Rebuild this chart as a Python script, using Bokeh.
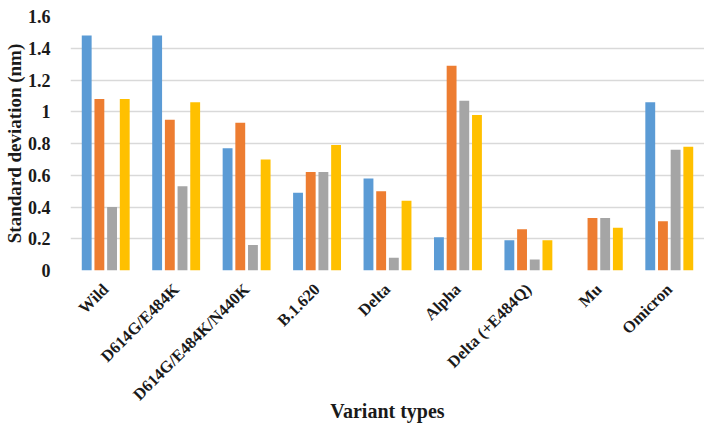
import math
from bokeh.plotting import figure
from bokeh.models import ColumnDataSource, FactorRange, Range1d
from bokeh.transform import dodge
from bokeh.embed import file_html
from bokeh.resources import INLINE

categories = ["Wild", "D614G/E484K", "D614G/E484K/N440K", "B.1.620", "Delta",
              "Alpha", "Delta (+E484Q)", "Mu", "Omicron"]
series1 = [1.48, 1.48, 0.77, 0.49, 0.58, 0.21, 0.19, 0.0, 1.06]
series2 = [1.08, 0.95, 0.93, 0.62, 0.50, 1.29, 0.26, 0.33, 0.31]
series3 = [0.40, 0.53, 0.16, 0.62, 0.08, 1.07, 0.07, 0.33, 0.76]
series4 = [1.08, 1.06, 0.70, 0.79, 0.44, 0.98, 0.19, 0.27, 0.78]
y_ticks = [0, 0.2, 0.4, 0.6, 0.8, 1.0, 1.2, 1.4, 1.6]

colors = ["#5B9BD5", "#ED7D31", "#A5A5A5", "#FFC000"]
offsets = [-0.27, -0.09, 0.09, 0.27]

source = ColumnDataSource(data=dict(cat=categories, s1=series1, s2=series2,
                                    s3=series3, s4=series4))

FONT = "Liberation Serif"

p = figure(x_range=FactorRange(*categories, range_padding=0.0),
           y_range=Range1d(0, 1.6),
           width=704, height=424, output_backend="svg", toolbar_location=None,
           min_border_left=10, min_border_top=16, min_border_right=0,
           min_border_bottom=0)

for key, c, off in zip(["s1", "s2", "s3", "s4"], colors, offsets):
    p.vbar(x=dodge("cat", off, range=p.x_range), top=key, width=0.14,
           source=source, fill_color=c, line_color=None)

p.outline_line_color = None
p.xgrid.grid_line_color = None
p.ygrid.grid_line_color = "#d9d9d9"
p.ygrid.grid_line_width = 1.5
p.yaxis.ticker = y_ticks
p.yaxis.major_label_overrides = {0: "0", 0.2: "0.2", 0.4: "0.4", 0.6: "0.6",
                                 0.8: "0.8", 1.0: "1", 1.2: "1.2", 1.4: "1.4",
                                 1.6: "1.6"}

for ax in [p.xaxis[0], p.yaxis[0]]:
    ax.axis_line_color = None
    ax.major_tick_line_color = None
    ax.minor_tick_line_color = None
    ax.major_label_text_font = FONT
    ax.major_label_text_font_style = "bold"
    ax.major_label_text_color = "#1a1a1a"
    ax.axis_label_text_font = FONT
    ax.axis_label_text_font_style = "bold"
    ax.axis_label_text_color = "#1a1a1a"

p.yaxis.major_label_text_font_size = "18px"
p.yaxis.axis_label = "Standard deviation (nm)"
p.yaxis.axis_label_text_font_size = "19px"
p.yaxis.major_label_standoff = 14
p.yaxis.axis_label_standoff = 0

p.xaxis.major_label_text_font_size = "16.5px"
p.xaxis.major_label_orientation = math.pi / 4
p.xaxis.major_label_standoff = 10
p.xaxis.axis_label = "Variant types"
p.xaxis.axis_label_text_font_size = "20px"
p.xaxis.axis_label_text_baseline = "top"
p.xaxis.axis_label_standoff = -14

open("out.html", "w").write(file_html(p, INLINE))
